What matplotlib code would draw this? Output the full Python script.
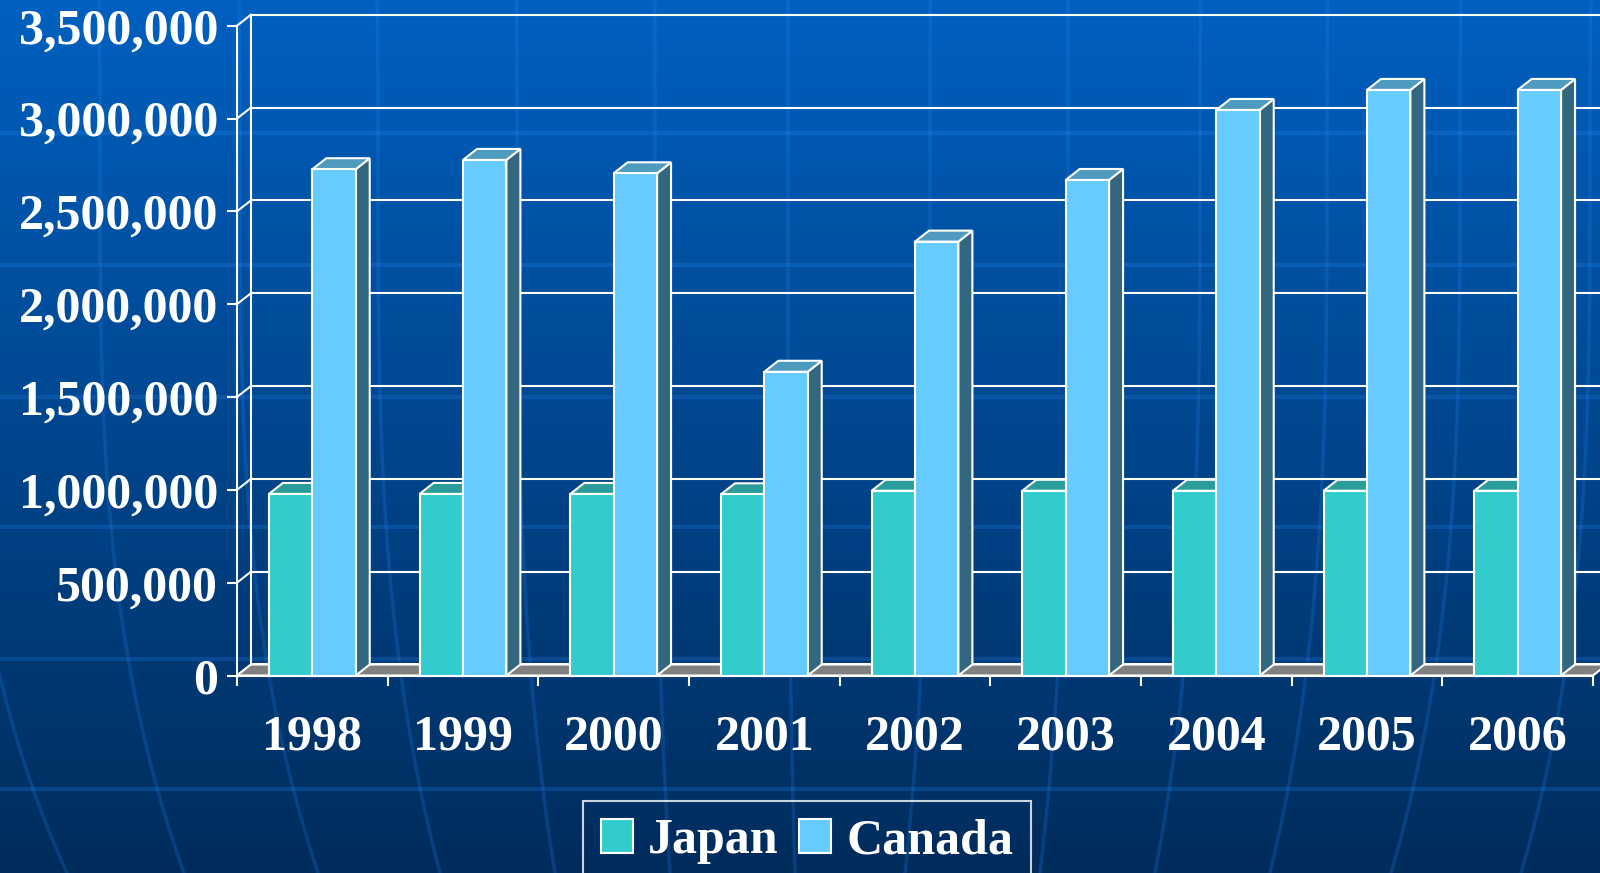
import matplotlib
matplotlib.use("Agg")
import matplotlib.pyplot as plt
import numpy as np
from matplotlib.patches import Polygon, Patch
from matplotlib.ticker import FuncFormatter

# ---------------- data ----------------
years = ["1998", "1999", "2000", "2001", "2002", "2003", "2004", "2005", "2006"]
japan = [978000, 978000, 978000, 976000, 995000, 995000, 995000, 995000, 995000]
canada = [2727000, 2777000, 2705000, 1636000, 2337000, 2669000, 3046000, 3154000, 3154000]
series_names = ["Japan", "Canada"]
y_ticks = [0, 500000, 1000000, 1500000, 2000000, 2500000, 3000000, 3500000]

# ---------------- style ----------------
W, H = 1600, 873
FONT = "Liberation Serif"
FRONT = ["#33CCCC", "#66CCFF"]
TOP = ["#2A9C9A", "#4F9BBF"]
SIDE = ["#1F6E6E", "#33667F"]
FLOOR = "#808080"
EDGE = "white"
LW = 1.5
DEPTH_PX = (14.0, 11.0)   # oblique depth offset in pixels (right, up)
BAR_W = 0.288

fig = plt.figure(figsize=(W / 100, H / 100), dpi=100)

# ---------------- background ----------------
bg = fig.add_axes([0, 0, 1, 1], zorder=-10)
top_c = np.array([0, 96, 192]) / 255.0
bot_c = np.array([0, 44, 92]) / 255.0
t = np.linspace(0, 1, 400)[:, None]
grad = (top_c[None, :] * (1 - t) + bot_c[None, :] * t)[:, None, :]
grad = np.repeat(grad, 4, axis=1)
bg.imshow(grad, extent=(0, W, H, 0), aspect="auto", interpolation="bilinear")
for hy in [133, 265, 397, 527, 659, 789]:
    bg.plot([0, W], [hy, hy], color="#2a8cff", alpha=0.22, lw=3)
mer_top = [-40, 100, 240, 378, 517, 655, 788, 930, 1068, 1200, 1327, 1460, 1590]
mer_bot = [67, 184, 318, 440, 555, 670, 795, 905, 1040, 1155, 1270, 1391, 1521]
yy = np.linspace(0, H, 200)
for xt, xb in zip(mer_top, mer_bot):
    f = (yy - 170) / (H - 170)
    xx = xt + (xb - xt) * np.sign(f) * np.abs(f) ** 3
    bg.plot(xx, yy, color="#2a8cff", alpha=0.2, lw=2.5)
bg.set_xlim(0, W)
bg.set_ylim(H, 0)
bg.axis("off")

# ---------------- main axes (front plane) ----------------
x_left, x_right = 237, 1593
y_zero, y_top = 675.5, 25.7
ax = fig.add_axes([x_left / W, (H - y_zero) / H, (x_right - x_left) / W, (y_zero - y_top) / H])
ax.patch.set_visible(False)
n = len(years)
ax.set_xlim(-0.5, n - 0.5)
ax.set_ylim(0, y_ticks[-1])

# depth offset in data units, from the axes' own transform
p0 = ax.transData.transform((0, 0))
px_per_x = ax.transData.transform((1, 0))[0] - p0[0]
px_per_y = ax.transData.transform((0, 1))[1] - p0[1]
dx = DEPTH_PX[0] / px_per_x
dy = DEPTH_PX[1] / px_per_y

x0, x1 = -0.5, n - 0.5
ymax = y_ticks[-1]

# back wall gridlines + left-wall connectors
for v in y_ticks:
    ax.plot([x0 + dx, x1 + dx], [v + dy, v + dy], color=EDGE, lw=LW, zorder=1, clip_on=False)
    ax.plot([x0, x0 + dx], [v, v + dy], color=EDGE, lw=LW, zorder=1, clip_on=False)
ax.plot([x0 + dx, x0 + dx], [dy, ymax + dy], color=EDGE, lw=LW, zorder=1, clip_on=False)
ax.plot([x1 + dx, x1 + dx], [dy, ymax + dy], color=EDGE, lw=LW, zorder=1, clip_on=False)

# floor
ax.add_patch(Polygon([(x0, 0), (x1, 0), (x1 + dx, dy), (x0 + dx, dy)], closed=True,
                     fc=FLOOR, ec=EDGE, lw=LW, zorder=2, clip_on=False))

# bars
values = [japan, canada]
offsets = [-BAR_W / 2, BAR_W / 2]
xs = np.arange(n)
for s in range(2):
    bars = ax.bar(xs + offsets[s], values[s], width=BAR_W, color=FRONT[s],
                  edgecolor=EDGE, linewidth=LW, clip_on=False)
    for i, b in enumerate(bars):
        z = 3 + i * 2 + s
        b.set_zorder(z + 0.5)
        bx0 = b.get_x()
        bx1 = bx0 + b.get_width()
        h = b.get_height()
        ax.add_patch(Polygon([(bx1, 0), (bx1 + dx, dy), (bx1 + dx, h + dy), (bx1, h)],
                             closed=True, fc=SIDE[s], ec=EDGE, lw=LW, zorder=z, clip_on=False))
        ax.add_patch(Polygon([(bx0, h), (bx1, h), (bx1 + dx, h + dy), (bx0 + dx, h + dy)],
                             closed=True, fc=TOP[s], ec=EDGE, lw=LW, zorder=z, clip_on=False))

# spines / ticks
for sp in ["top", "right"]:
    ax.spines[sp].set_visible(False)
for sp in ["left", "bottom"]:
    ax.spines[sp].set_color(EDGE)
    ax.spines[sp].set_linewidth(LW)
    ax.spines[sp].set_zorder(2.5)

ax.set_yticks(y_ticks)
ax.yaxis.set_major_formatter(FuncFormatter(lambda v, p: f"{int(v):,}"))
ax.tick_params(axis="y", direction="out", length=7.2, width=LW, color=EDGE, pad=6.5,
               labelcolor="white", labelsize=36)
ax.set_xticks(np.arange(n + 1) - 0.5)
ax.set_xticklabels([])
ax.set_xticks(xs, minor=True)
ax.set_xticklabels(years, minor=True)
ax.tick_params(axis="x", which="major", direction="out", length=7.2, width=LW, color=EDGE)
ax.tick_params(axis="x", which="minor", length=0, pad=28, labelcolor="white", labelsize=36)
for lab in ax.get_yticklabels() + ax.get_xticklabels(minor=True):
    lab.set_fontfamily(FONT)
    lab.set_fontweight("bold")

# legend
handles = [Patch(fc=FRONT[s], ec=EDGE, lw=LW) for s in range(2)]
leg = fig.legend(handles, series_names, loc="upper left",
                 bbox_to_anchor=(583 / W, 1 - 801 / H), ncol=2, frameon=True,
                 fancybox=False, edgecolor=EDGE, facecolor="none", framealpha=None,
                 prop={"family": FONT, "weight": "bold", "size": 36}, labelcolor="white",
                 handlelength=0.65, handleheight=0.65, handletextpad=0.3,
                 columnspacing=0.4, borderpad=0.35, borderaxespad=0)
leg.get_frame().set_linewidth(LW)

fig.savefig("out.png", dpi=100)
